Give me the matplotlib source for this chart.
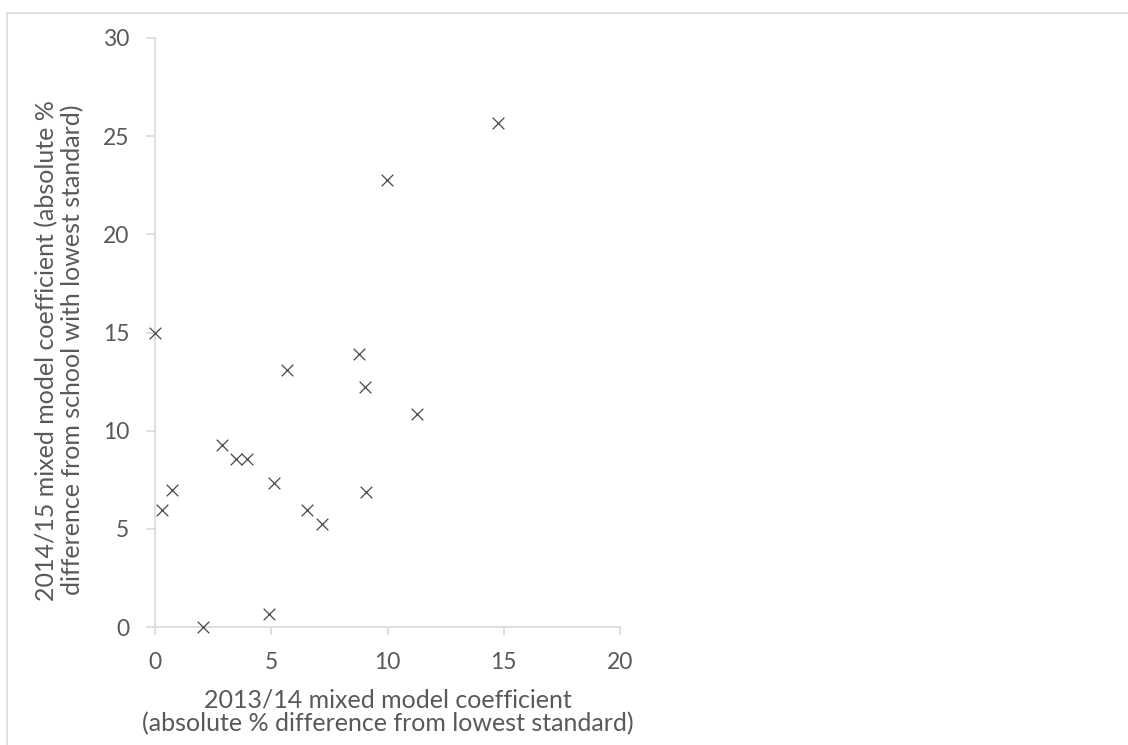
import matplotlib
matplotlib.use("Agg")
import matplotlib.pyplot as plt
from matplotlib.patches import Rectangle

x_2013_14 = [0.0, 0.31, 0.75, 2.05, 2.88, 3.48, 3.97, 4.92, 5.12, 5.69,
             6.52, 7.17, 8.79, 9.03, 9.06, 9.96, 11.28, 14.77]
y_2014_15 = [14.95, 5.98, 7.0, 0.0, 9.29, 8.54, 8.54, 0.65, 7.34, 13.08,
             5.98, 5.23, 13.93, 12.2, 6.86, 22.79, 10.87, 25.67]
x_ticks = [0, 5, 10, 15, 20]
y_ticks = [0, 5, 10, 15, 20, 25, 30]

x_label = "2013/14 mixed model coefficient\n(absolute % difference from lowest standard)"
y_label = "2014/15 mixed model coefficient (absolute %\ndifference from school with lowest standard)"

plt.rcParams['font.family'] = ['Lato', 'DejaVu Sans']

fig = plt.figure(figsize=(11.28, 7.45), dpi=100)
fig.patches.append(Rectangle((7/1128, -0.1), 1.2, 1 - 13/745 + 0.1,
                             transform=fig.transFigure, fill=False,
                             edgecolor='#d9d9d9', linewidth=1.2))
ax = fig.add_axes([155/1128, 1 - 627/745, (620-155)/1128, (627-38)/745])

ax.scatter(x_2013_14, y_2014_15, marker='x', s=70, color='#474747',
           linewidths=0.9, clip_on=False, zorder=3)

ax.set_xlim(0, 20)
ax.set_ylim(0, 30)
ax.set_xticks(x_ticks)
ax.set_yticks(y_ticks)
for s in ['top', 'right']:
    ax.spines[s].set_visible(False)
for s in ['left', 'bottom']:
    ax.spines[s].set_color('#d9d9d9')
    ax.spines[s].set_linewidth(1.2)
ax.tick_params(axis='x', direction='out', length=6, width=1.2, color='#d9d9d9',
               labelsize=16.5, labelcolor='#595959', pad=12)
ax.tick_params(axis='y', direction='out', length=6.5, width=1.2, color='#d9d9d9',
               labelsize=16.5, labelcolor='#595959', pad=12)

ax.set_xlabel(x_label, fontsize=18, color='#595959', labelpad=11, linespacing=1.02)
ax.set_ylabel(y_label, fontsize=18, color='#595959', linespacing=1.12)
ax.yaxis.set_label_coords(-0.153, 0.47)

fig.savefig("out.png", dpi=100)
